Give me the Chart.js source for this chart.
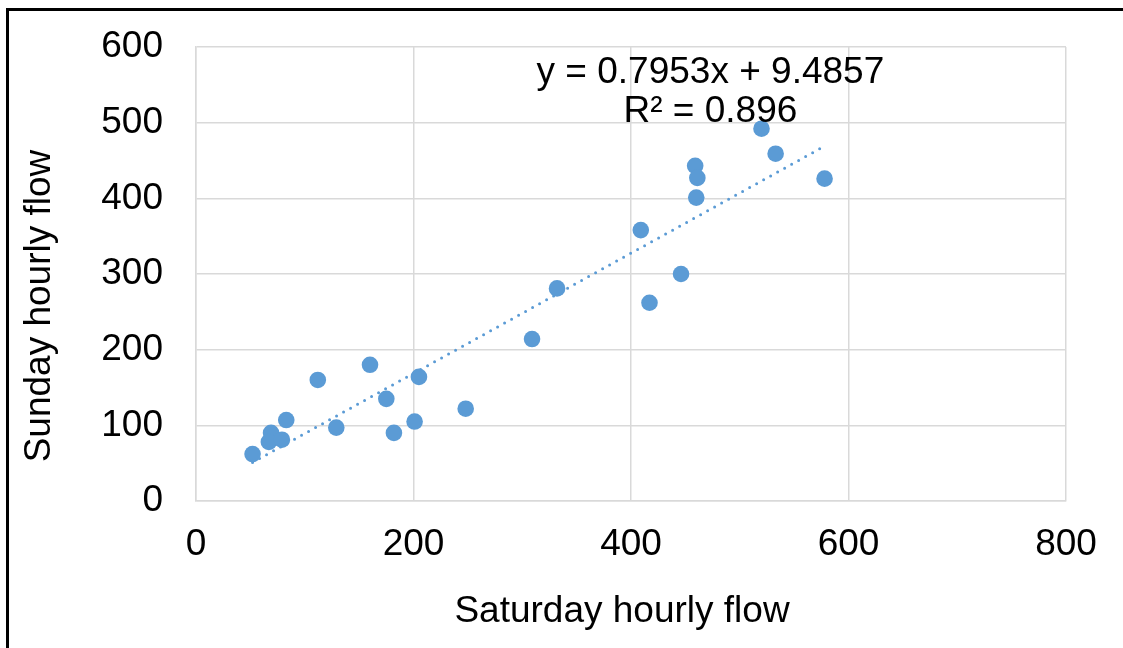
<!DOCTYPE html>
<html>
<head>
<meta charset="utf-8">
<script src="https://cdn.jsdelivr.net/npm/chart.js@4/dist/chart.umd.min.js"></script>
<style>
html,body{margin:0;padding:0;background:#fff;}
#wrap{position:relative;width:1123px;height:648px;}
</style>
</head>
<body>
<div id="wrap"><canvas id="c" width="1123" height="648"></canvas></div>
<script>
// Data
const saturdayFlow = [52, 69, 67, 79, 83, 112, 129, 160, 175, 182, 205, 201, 248, 332, 309, 409, 417, 446, 459, 461, 460, 520, 533, 578];
const sundayFlow   = [62, 90, 78, 81, 107, 160, 97, 180, 135, 90, 164, 105, 122, 281, 214, 358, 262, 300, 443, 427, 401, 492, 459, 426];
const trendX = [52, 578];
const trendY = [51, 469];
const xTicks = [0, 200, 400, 600, 800];
const yTicks = [0, 100, 200, 300, 400, 500, 600];
const equationLines = ['y = 0.7953x + 9.4857', 'R\u00B2 = 0.896'];
const xTitle = 'Saturday hourly flow';
const yTitle = 'Sunday hourly flow';

const FONT = '"Liberation Sans", Arial, sans-serif';
const BLUE = '#5B9BD5';

const points = saturdayFlow.map((x, i) => ({x: x, y: sundayFlow[i]}));
const trend = trendX.map((x, i) => ({x: x, y: trendY[i]}));

const decor = {
  id: 'decor',
  beforeDraw(chart) {
    const ctx = chart.ctx;
    ctx.save();
    ctx.fillStyle = '#fff';
    ctx.fillRect(0, 0, chart.width, chart.height);
    ctx.fillStyle = '#000';
    ctx.fillRect(6, 8, 3, 640);
    ctx.fillRect(6, 8, 1117, 3);
    ctx.restore();
  },
  afterDraw(chart) {
    const ctx = chart.ctx;
    const xs = chart.scales.x;
    ctx.save();
    ctx.fillStyle = '#000';
    ctx.font = '37px ' + FONT;
    ctx.textAlign = 'center';
    ctx.textBaseline = 'alphabetic';
    const ex = xs.getPixelForValue(473);
    ctx.fillText(equationLines[0], ex, 83);
    ctx.fillText(equationLines[1], ex, 122);
    ctx.fillText(xTitle, 622, 622);
    ctx.translate(50, 306);
    ctx.rotate(-Math.PI / 2);
    ctx.fillText(yTitle, 0, 0);
    ctx.restore();
  }
};

new Chart(document.getElementById('c'), {
  type: 'scatter',
  data: {
    datasets: [
      {
        label: 'trend',
        type: 'line',
        data: trend,
        borderColor: BLUE,
        borderWidth: 3,
        borderDash: [0, 8],
        borderCapStyle: 'round',
        pointRadius: 0,
        fill: false,
        order: 2
      },
      {
        label: 'flow',
        data: points,
        backgroundColor: BLUE,
        borderColor: BLUE,
        pointRadius: 8.3,
        pointBorderWidth: 0,
        order: 1
      }
    ]
  },
  options: {
    responsive: false,
    animation: false,
    devicePixelRatio: 1,
    layout: {padding: {left: 0, top: 47, right: 57, bottom: 0}},
    plugins: {legend: {display: false}, tooltip: {enabled: false}},
    scales: {
      x: {
        type: 'linear',
        min: 0, max: 800,
        afterBuildTicks(s) { s.ticks = xTicks.map(v => ({value: v})); },
        afterFit(s) { s.height = 147; },
        grid: {color: '#D9D9D9', lineWidth: 1.5, drawTicks: false},
        border: {color: '#D9D9D9', width: 1.5},
        ticks: {color: '#000', font: {family: FONT, size: 37}, padding: 22, maxRotation: 0}
      },
      y: {
        type: 'linear',
        min: 0, max: 600,
        afterBuildTicks(s) { s.ticks = yTicks.map(v => ({value: v})); },
        afterFit(s) { s.width = 196; s.paddingTop = 0; },
        grid: {color: '#D9D9D9', lineWidth: 1.5, drawTicks: false},
        border: {color: '#D9D9D9', width: 1.5},
        ticks: {color: '#000', font: {family: FONT, size: 37}, padding: 33}
      }
    }
  },
  plugins: [decor]
});
</script>
</body>
</html>
